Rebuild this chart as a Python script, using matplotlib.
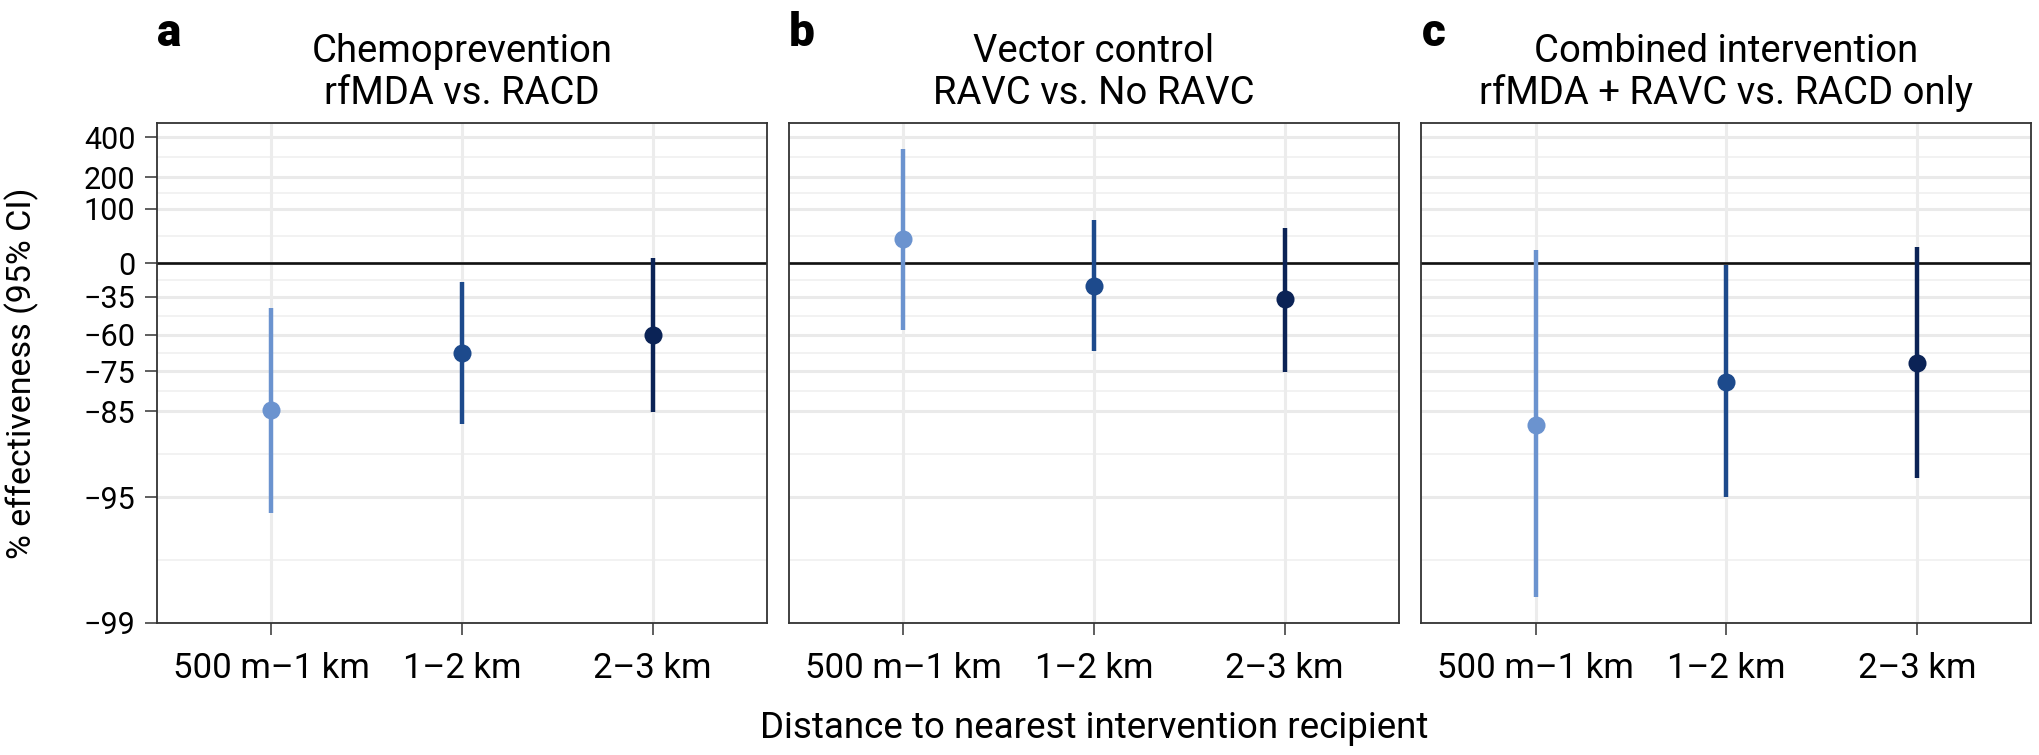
import numpy as np
import matplotlib.pyplot as plt
from matplotlib.ticker import FixedLocator, NullFormatter

plt.rcParams['font.family'] = ['Roboto', 'DejaVu Sans']

# ---------- data (percent effectiveness, 95% CI) ----------
categories = ["500 m\u20131 km", "1\u20132 km", "2\u20133 km"]

chemo_est = [-84.8, -68.2, -60.2]
chemo_lo = [-95.9, -87.2, -85.2]
chemo_hi = [-43.8, -21.3, 6.2]

vector_est = [35.4, -25.5, -37.0]
vector_lo = [-57.5, -67.5, -75.1]
vector_hi = [332.0, 73.0, 57.0]

combined_est = [-87.4, -78.1, -72.1]
combined_lo = [-98.6, -95.0, -93.6]
combined_hi = [18.0, -2.5, 23.0]

panel_letters = ["a", "b", "c"]
panel_titles = [("Chemoprevention", "rfMDA vs. RACD"),
                ("Vector control", "RAVC vs. No RAVC"),
                ("Combined intervention", "rfMDA + RAVC vs. RACD only")]

y_breaks = [400, 200, 100, 0, -35, -60, -75, -85, -95, -99]
colors = ["#6B93CF", "#1D4A8C", "#0B2356"]

panels = [(chemo_est, chemo_lo, chemo_hi),
          (vector_est, vector_lo, vector_hi),
          (combined_est, combined_lo, combined_hi)]


def to_ratio(v):
    return 1 + np.asarray(v, dtype=float) / 100


# ---------- layout (pixels) ----------
W, H = 2040, 755
fig = plt.figure(figsize=(W / 100, H / 100), dpi=100)
lefts = [157, 789, 1421.5]
pw, ptop, pbot = 610, 123, 623

major = to_ratio(y_breaks)
lg = np.log10(major)
minor = 10 ** ((lg[:-1] + lg[1:]) / 2)

x = np.arange(1, 4)
axes = []
for i, (est, lo, hi) in enumerate(panels):
    ax = fig.add_axes([lefts[i] / W, 1 - pbot / H, pw / W, (pbot - ptop) / H])
    axes.append(ax)
    ax.set_yscale('log')
    ax.set_ylim(0.01, 6.0)
    ax.set_xlim(0.4, 3.6)

    # grid
    for m in major:
        ax.axhline(m, color="#EAEAEA", lw=2.2, zorder=0)
    for m in minor:
        ax.axhline(m, color="#F0F0F0", lw=1.2, zorder=0)
    for xi in x:
        ax.axvline(xi, color="#ECECEC", lw=2.2, zorder=0)
    ax.axhline(1.0, color="#111111", lw=1.9, zorder=1)

    r_est, r_lo, r_hi = to_ratio(est), to_ratio(lo), to_ratio(hi)
    for j in range(3):
        ax.plot([x[j], x[j]], [r_lo[j], r_hi[j]], color=colors[j], lw=3.2,
                solid_capstyle='butt', zorder=3)
        ax.plot(x[j], r_est[j], 'o', color=colors[j], ms=13, mew=0, zorder=4)

    ax.yaxis.set_major_locator(FixedLocator(major))
    ax.yaxis.set_minor_locator(FixedLocator(minor))
    ax.yaxis.set_minor_formatter(NullFormatter())
    ax.set_yticklabels([str(b).replace("-", "\u2212") for b in y_breaks])
    ax.set_xticks(x)
    ax.set_xticklabels(categories)
    ax.tick_params(axis='x', length=8.6, width=1.1, color="#333333",
                   labelsize=25, pad=12)
    ax.tick_params(axis='y', which='major', length=8.6, width=1.1,
                   color="#333333", labelsize=22, pad=7)
    ax.tick_params(axis='y', which='minor', length=0)
    if i > 0:
        ax.tick_params(axis='y', which='both', left=False, labelleft=False)

    for s in ax.spines.values():
        s.set_color("#333333")
        s.set_linewidth(1.3)

    ax.text(0.5, (pbot - 62) / (pbot - ptop), panel_titles[i][0],
            transform=ax.transAxes, ha='center', va='baseline', fontsize=27.5)
    ax.text(0.5, (pbot - 104) / (pbot - ptop), panel_titles[i][1],
            transform=ax.transAxes, ha='center', va='baseline', fontsize=27.5)
    ax.text(0.0, (pbot - 46) / (pbot - ptop), panel_letters[i],
            transform=ax.transAxes, ha='left', va='baseline', fontsize=33,
            fontweight='heavy')

fig.text(22 / W, 1 - 373 / H, "% effectiveness (95% CI)", rotation=90,
         ha='center', va='center', fontsize=24.5)
fig.text(1094 / W, 1 - 738 / H, "Distance to nearest intervention recipient",
         ha='center', va='baseline', fontsize=26.5)

fig.savefig("out.png", dpi=100)
